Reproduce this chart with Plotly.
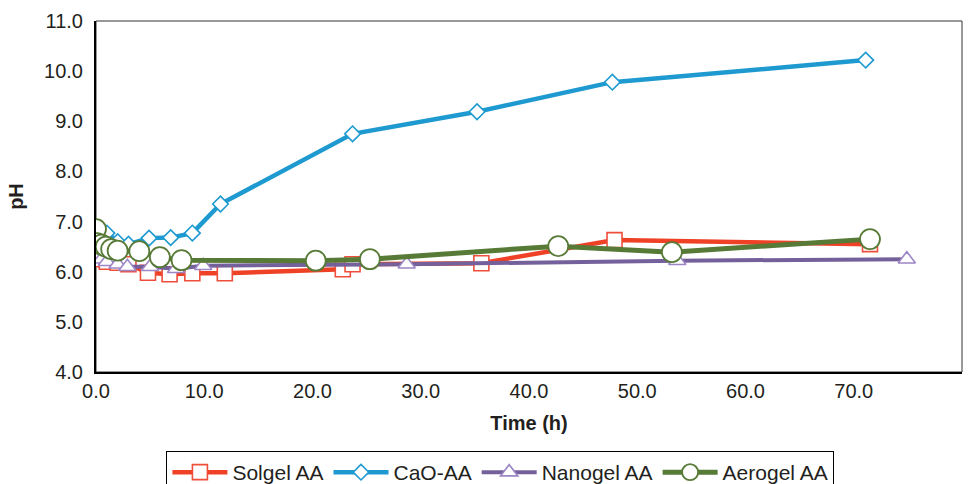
import plotly.graph_objects as go

solgel_t = [0, 0.5, 1, 2, 3, 4.8, 6.8, 8.9, 11.9, 22.8, 23.7, 35.6, 47.9, 71.5]
solgel_ph = [6.32, 6.25, 6.2, 6.18, 6.15, 5.98, 5.95, 5.97, 5.97, 6.05, 6.15, 6.17, 6.63, 6.55]

cao_t = [0, 1, 2, 3, 4.9, 6.9, 8.9, 11.5, 23.7, 35.2, 47.7, 71.1]
cao_ph = [6.82, 6.77, 6.6, 6.55, 6.67, 6.68, 6.77, 7.35, 8.75, 9.19, 9.78, 10.22]

nano_t = [0, 0.5, 1, 2, 2.9, 5.0, 7.4, 9.9, 28.7, 53.7, 74.9]
nano_ph = [6.3, 6.25, 6.2, 6.15, 6.1, 6.1, 6.06, 6.12, 6.15, 6.22, 6.25]

aero_t = [0, 0.1, 0.5, 0.9, 1.4, 2.0, 4.0, 5.9, 7.9, 20.3, 25.3, 42.7, 53.2, 71.5]
aero_ph = [6.85, 6.57, 6.54, 6.5, 6.45, 6.42, 6.41, 6.29, 6.23, 6.22, 6.25, 6.51, 6.39, 6.65]

FONT = "Liberation Sans, Arial, sans-serif"
TXT = "#231F20"

fig = go.Figure()
fig.add_trace(go.Scatter(
    x=solgel_t, y=solgel_ph, name="Solgel AA", mode="lines+markers",
    line=dict(color="#EE4126", width=4.5),
    marker=dict(symbol="square", size=15, color="white",
                line=dict(color="#EF4E3A", width=1.6))))
fig.add_trace(go.Scatter(
    x=cao_t, y=cao_ph, name="CaO-AA", mode="lines+markers",
    line=dict(color="#1E9AD0", width=4.5),
    marker=dict(symbol="diamond", size=12, color="white",
                line=dict(color="#1E9AD0", width=1.6))))
fig.add_trace(go.Scatter(
    x=nano_t, y=nano_ph, name="Nanogel AA", mode="lines+markers",
    line=dict(color="#74609A", width=4),
    marker=dict(symbol="triangle-up", size=15, color="white",
                line=dict(color="#9C86C6", width=1.6))))
fig.add_trace(go.Scatter(
    x=aero_t, y=aero_ph, name="Aerogel AA", mode="lines+markers",
    line=dict(color="#577A36", width=5),
    marker=dict(symbol="circle", size=20, color="white",
                line=dict(color="#577A36", width=1.8))))

fig.update_layout(
    width=979, height=484,
    margin=dict(l=96, r=17, t=21, b=112),
    paper_bgcolor="white", plot_bgcolor="white",
    font=dict(family=FONT, color=TXT, size=20),
    showlegend=True,
    legend=dict(orientation="h", xref="paper", x=0.467, xanchor="center",
                yref="container", y=1 - 451 / 484, yanchor="top",
                bordercolor="black", borderwidth=1, bgcolor="white",
                font=dict(family=FONT, size=21, color=TXT),
                itemwidth=55, tracegroupgap=0),
    shapes=[dict(type="rect", xref="paper", yref="paper", x0=0, y0=0, x1=1, y1=1,
                 line=dict(color="#333333", width=1), layer="below")],
)
fig.update_xaxes(range=[0, 80], dtick=10, tick0=0, tickformat=".1f",
                 showgrid=False, zeroline=False, showline=True, linecolor="black", linewidth=2,
                 ticks="", ticklabelstandoff=0, automargin=False,
                 title=dict(text="<b>Time (h)</b>", font=dict(size=20, family=FONT, color=TXT)),
                 tickfont=dict(size=20, family=FONT, color=TXT))
fig.update_yaxes(range=[4, 11], dtick=1, tick0=4, tickformat=".1f",
                 showgrid=False, zeroline=False, showline=True, linecolor="black", linewidth=2,
                 ticks="", ticklabelstandoff=7, automargin=False,
                 title=dict(text="<b>pH</b>", font=dict(size=20, family=FONT, color=TXT)),
                 tickfont=dict(size=20, family=FONT, color=TXT))

fig.write_html("out.html")
